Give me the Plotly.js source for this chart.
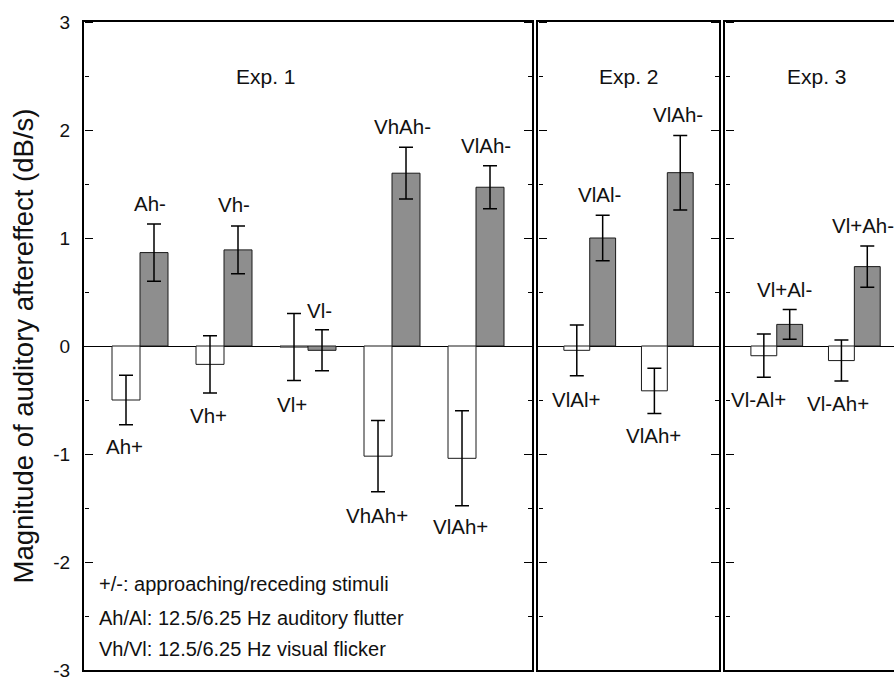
<!DOCTYPE html>
<html>
<head>
<meta charset="utf-8">
<script src="https://cdn.plot.ly/plotly-3.0.1.min.js"></script>
<style>html,body{margin:0;padding:0;background:#fff;}#chart{width:894px;height:678px;}</style>
</head>
<body>
<div id="chart"></div>
<script>
// ---------- data ----------
// Exp. 1
const exp1Groups = [1, 2, 3, 4, 5];
const exp1PlusLabels = ['Ah+', 'Vh+', 'Vl+', 'VhAh+', 'VlAh+'];
const exp1MinusLabels = ['Ah-', 'Vh-', 'Vl-', 'VhAh-', 'VlAh-'];
const exp1Plus = [-0.50, -0.17, -0.01, -1.02, -1.04];
const exp1PlusErr = [0.23, 0.265, 0.31, 0.33, 0.44];
const exp1Minus = [0.865, 0.89, -0.04, 1.60, 1.47];
const exp1MinusErr = [0.265, 0.22, 0.19, 0.24, 0.20];
// Exp. 2
const exp2Groups = [1, 2];
const exp2PlusLabels = ['VlAl+', 'VlAh+'];
const exp2MinusLabels = ['VlAl-', 'VlAh-'];
const exp2Plus = [-0.04, -0.415];
const exp2PlusErr = [0.235, 0.21];
const exp2Minus = [1.00, 1.605];
const exp2MinusErr = [0.21, 0.345];
// Exp. 3
const exp3Groups = [1, 2];
const exp3PlusLabels = ['Vl-Al+', 'Vl-Ah+'];
const exp3MinusLabels = ['Vl+Al-', 'Vl+Ah-'];
const exp3Plus = [-0.09, -0.135];
const exp3PlusErr = [0.20, 0.19];
const exp3Minus = [0.20, 0.735];
const exp3MinusErr = [0.137, 0.19];
// titles / text
const panelTitles = ['Exp. 1', 'Exp. 2', 'Exp. 3'];
const noteLines = ['+/-: approaching/receding stimuli',
                   'Ah/Al: 12.5/6.25 Hz auditory flutter',
                   'Vh/Vl: 12.5/6.25 Hz visual flicker'];
const yTickVals = [-3, -2, -1, 0, 1, 2, 3];
const yTickText = ['-3', '-2', '-1', '0', '1', '2', '3'];
const yMinorTickVals = [-2.5, -1.5, -0.5, 0.5, 1.5, 2.5];
const yTitle = 'Magnitude of auditory aftereffect (dB/s)';

// ---------- styling ----------
const FONT = 'Liberation Sans, Arial, Helvetica, sans-serif';
const INK = '#111111';
const GRAY = '#8e8e8e';
const OUTLINE = '#1a1a1a';

// panel domains (paper fractions)
const D1 = [0, 0.5531], D2 = [0.5605, 0.7840], D3 = [0.7914, 1];

function barTrace(x, y, err, fill, xa, ya, name) {
  return {
    type: 'bar', x: x, y: y, name: name, xaxis: xa, yaxis: ya,
    marker: {color: fill, line: {color: OUTLINE, width: 1}},
    error_y: {type: 'data', array: err, visible: true, color: '#000', thickness: 1.5, width: 7},
    showlegend: false, hoverinfo: 'skip'
  };
}

const data = [
  barTrace(exp1Groups, exp1Plus, exp1PlusErr, '#ffffff', 'x', 'y', 'Exp1 +'),
  barTrace(exp1Groups, exp1Minus, exp1MinusErr, GRAY, 'x', 'y', 'Exp1 -'),
  barTrace(exp2Groups, exp2Plus, exp2PlusErr, '#ffffff', 'x2', 'y2', 'Exp2 +'),
  barTrace(exp2Groups, exp2Minus, exp2MinusErr, GRAY, 'x2', 'y2', 'Exp2 -'),
  barTrace(exp3Groups, exp3Plus, exp3PlusErr, '#ffffff', 'x3', 'y3', 'Exp3 +'),
  barTrace(exp3Groups, exp3Minus, exp3MinusErr, GRAY, 'x3', 'y3', 'Exp3 -')
];
// empty carrier traces so the tick-only overlay axes are drawn
[['x', 'y4'], ['x', 'y5'], ['x2', 'y6'], ['x2', 'y7'], ['x3', 'y8']].forEach(p => data.push(
  {type: 'scatter', mode: 'none', x: [], y: [], xaxis: p[0], yaxis: p[1], showlegend: false, hoverinfo: 'skip'}));

// ---------- axes ----------
function xAxis(anchor, domain, range) {
  return {anchor: anchor, domain: domain, range: range, showline: true, linecolor: '#000', linewidth: 2,
          mirror: true, showgrid: false, zeroline: false, showticklabels: false, ticks: ''};
}
function yAxis(anchor, labels) {
  return {anchor: anchor, range: [-3, 3], tickmode: 'array', tickvals: yTickVals, ticktext: yTickText,
          showticklabels: labels, ticks: '',
          showline: true, linecolor: '#000', linewidth: 2, mirror: true,
          showgrid: false, zeroline: true, zerolinecolor: '#000', zerolinewidth: 1,
          tickfont: {family: FONT, size: 19, color: INK}, ticklabelstandoff: 8,
          ticklabeloverflow: 'allow'};
}
// tick-only axis: outside ticks that point into the panel
function tickAxis(over, side, pos) {
  return {overlaying: over, anchor: 'free', side: side, position: pos, range: [-3, 3],
          tickmode: 'array', tickvals: yTickVals, ticks: 'outside', ticklen: 8, tickwidth: 1, tickcolor: '#000',
          minor: {tickmode: 'array', tickvals: yMinorTickVals, ticks: 'outside', ticklen: 4,
                  tickwidth: 1, tickcolor: '#000', showgrid: false},
          showticklabels: false, showline: false, showgrid: false, zeroline: false};
}

const y1 = yAxis('x', true);
y1.title = {text: yTitle, font: {family: FONT, size: 27.5, color: INK}, standoff: 12};
const y3 = yAxis('x3', false);
y3.mirror = false;

// ---------- annotations ----------
const ann = [];
function label(text, xref, yref, x, y, size) {
  ann.push({text: text, xref: xref, yref: yref, x: x, y: y, showarrow: false,
            xanchor: 'center', yanchor: 'middle', font: {family: FONT, size: size || 20.5, color: INK}});
}
// label positions (data coords) for each bar label
const exp1PlusAt = [[0.815, -0.93], [1.821, -0.64], [2.81, -0.54], [3.818, -1.565], [4.821, -1.673]];
const exp1MinusAt = [[1.119, 1.315], [2.119, 1.306], [3.131, 0.333], [4.125, 2.03], [5.119, 1.861]];
const exp2PlusAt = [[0.823, -0.491], [1.824, -0.833]];
const exp2MinusAt = [[1.128, 1.405], [2.137, 2.139]];
const exp3PlusAt = [[0.771, -0.494], [1.793, -0.531]];
const exp3MinusAt = [[1.094, 0.519], [2.111, 1.12]];

exp1PlusLabels.forEach((t, i) => label(t, 'x', 'y', exp1PlusAt[i][0], exp1PlusAt[i][1]));
exp1MinusLabels.forEach((t, i) => label(t, 'x', 'y', exp1MinusAt[i][0], exp1MinusAt[i][1]));
exp2PlusLabels.forEach((t, i) => label(t, 'x2', 'y2', exp2PlusAt[i][0], exp2PlusAt[i][1]));
exp2MinusLabels.forEach((t, i) => label(t, 'x2', 'y2', exp2MinusAt[i][0], exp2MinusAt[i][1]));
exp3PlusLabels.forEach((t, i) => label(t, 'x3', 'y3', exp3PlusAt[i][0], exp3PlusAt[i][1]));
exp3MinusLabels.forEach((t, i) => label(t, 'x3', 'y3', exp3MinusAt[i][0], exp3MinusAt[i][1]));

label(panelTitles[0], 'x', 'y', 2.494, 2.494, 21);
label(panelTitles[1], 'x2', 'y2', 1.506, 2.494, 21);
label(panelTitles[2], 'x3', 'y3', 1.519, 2.494, 21);

const noteY = [-2.204, -2.52, -2.81];
noteLines.forEach((t, i) => ann.push({text: t, xref: 'x domain', yref: 'y', x: 0.029, y: noteY[i],
  xanchor: 'left', yanchor: 'middle', showarrow: false, font: {family: FONT, size: 20, color: INK}}));

const layout = {
  width: 894, height: 678,
  margin: {l: 84, r: 0, t: 22, b: 8},
  paper_bgcolor: '#ffffff', plot_bgcolor: '#ffffff',
  barmode: 'group', bargap: 1 / 3, bargroupgap: 0,
  showlegend: false,
  xaxis: xAxis('y', D1, [0.3333, 5.6667]),
  xaxis2: xAxis('y2', D2, [0.3333, 2.6667]),
  xaxis3: xAxis('y3', D3, [0.3333, 2.511]),
  yaxis: y1,
  yaxis2: yAxis('x2', false),
  yaxis3: y3,
  yaxis4: tickAxis('y', 'right', D1[0]),
  yaxis5: tickAxis('y', 'left', D1[1]),
  yaxis6: tickAxis('y2', 'right', D2[0]),
  yaxis7: tickAxis('y2', 'left', D2[1]),
  yaxis8: tickAxis('y3', 'right', D3[0]),
  annotations: ann
};

Plotly.newPlot('chart', data, layout, {staticPlot: true, displayModeBar: false});
</script>
</body>
</html>
